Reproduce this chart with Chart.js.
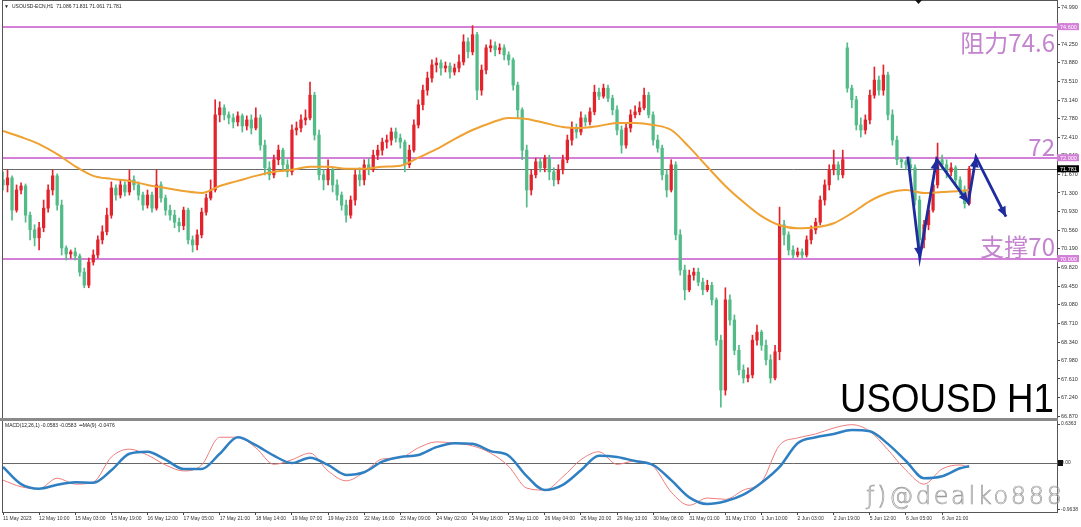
<!DOCTYPE html>
<html>
<head>
<meta charset="utf-8">
<script src="https://cdn.jsdelivr.net/npm/chart.js@4.4.1/dist/chart.umd.min.js"></script>
<style>
html, body { margin: 0; padding: 0; background: #fff; }
#wrap { position: relative; width: 1081px; height: 527px; overflow: hidden; }
#priceBox { position: absolute; left: 0; top: 0; width: 1081px; height: 420px; }
#macdBox { position: absolute; left: 0; top: 420px; width: 1081px; height: 107px; }
</style>
</head>
<body>
<div id="wrap">
  <div id="priceBox"><canvas id="priceChart" width="1081" height="420"></canvas></div>
  <div id="macdBox"><canvas id="macdChart" width="1081" height="107"></canvas></div>
</div>
<script>
// USOUSD-ECN H1, candles (one candle per 2 bars)
const opens = [71.56,71.46,71.60,70.96,71.36,71.44,70.86,70.57,70.41,70.61,71.00,71.36,71.64,71.06,70.21,70.09,70.13,70.05,69.73,69.47,
  69.93,70.07,70.37,70.53,70.86,71.40,71.26,71.46,71.32,71.56,71.46,71.26,71.06,71.26,71.00,71.46,71.20,70.96,70.86,70.72,
  70.65,70.96,70.37,70.27,70.47,70.92,71.20,71.36,72.85,72.99,72.85,72.79,72.71,72.83,72.63,72.75,72.59,72.79,72.25,71.80,
  71.66,71.96,72.15,71.86,71.72,72.55,72.59,72.75,72.79,73.24,72.45,71.66,71.56,71.76,71.46,71.26,71.06,70.86,71.16,71.66,
  71.56,71.86,71.76,72.05,72.15,72.31,72.35,72.51,72.39,72.31,71.86,72.15,72.65,73.05,73.34,73.58,73.84,73.88,73.78,73.82,
  73.70,73.78,73.90,74.30,74.10,74.44,73.34,73.74,74.18,74.22,74.14,74.18,74.04,73.94,73.44,72.95,72.15,71.36,71.66,71.92,
  71.80,71.99,71.72,71.56,71.76,71.96,72.35,72.59,72.51,72.79,72.71,72.91,73.30,73.22,73.38,73.18,72.95,72.55,72.25,72.59,
  72.85,72.91,72.99,73.24,72.85,72.35,72.19,71.66,71.36,71.86,70.47,69.77,69.38,69.67,69.73,69.53,69.38,69.47,69.18,68.38,
  67.39,69.18,68.78,68.18,67.79,67.63,67.69,68.38,68.54,68.28,67.99,67.63,68.15,70.67,70.47,70.17,70.07,70.13,70.07,70.37,
  70.57,70.72,71.16,71.46,71.76,71.86,71.66,74.18,73.38,73.15,72.65,72.55,72.75,73.24,73.54,73.34,73.64,72.85,72.35,71.96,
  71.92,71.86,71.80,71.16,70.37,70.67,70.96,71.46,71.96,71.86,71.72,71.80,71.56,71.36,71.09];
const highs = [71.72,71.76,71.64,71.46,71.50,71.48,70.92,70.67,70.72,71.16,71.46,71.76,71.68,71.16,70.25,70.17,70.21,70.09,69.81,70.01,
  70.17,70.45,70.65,71.00,71.52,71.46,71.56,71.52,71.76,71.64,71.52,71.32,71.36,71.32,71.76,71.52,71.26,71.06,70.96,70.80,
  71.02,71.00,70.45,70.57,71.00,71.28,71.56,73.15,73.11,73.05,72.91,72.87,72.91,72.87,72.83,72.85,72.99,72.85,72.35,71.92,
  72.05,72.25,72.19,71.96,72.65,72.71,72.85,72.95,73.50,73.30,72.55,71.76,71.96,71.80,71.56,71.32,71.16,71.24,71.76,71.80,
  71.96,71.99,72.15,72.25,72.39,72.45,72.59,72.59,72.47,72.35,72.25,72.75,73.15,73.44,73.70,73.94,73.98,73.94,73.90,73.88,
  73.86,74.04,74.44,74.38,74.62,74.49,73.84,74.24,74.34,74.30,74.26,74.24,74.10,73.98,73.50,72.99,72.25,71.76,71.99,71.99,
  72.05,72.05,71.80,71.86,72.05,72.45,72.71,72.67,72.91,72.85,72.99,73.44,73.38,73.46,73.44,73.24,73.03,72.63,72.67,72.95,
  73.03,73.11,73.38,73.30,72.91,72.45,72.25,71.76,71.96,71.92,70.57,69.87,69.77,69.81,69.81,69.61,69.57,69.53,69.22,68.48,
  69.42,69.28,68.88,68.28,67.89,67.83,68.48,68.68,68.58,68.38,68.09,68.28,71.02,70.76,70.53,70.25,70.21,70.19,70.45,70.65,
  70.80,71.24,71.56,71.86,72.15,71.92,72.15,74.28,73.44,73.22,72.79,72.85,73.34,73.80,73.62,73.84,73.70,72.95,72.43,71.99,
  71.96,71.99,71.86,71.24,70.76,71.06,71.56,72.29,72.05,71.96,71.90,71.84,71.62,71.44,71.83];
const lows = [71.36,71.32,70.76,70.92,71.28,70.72,70.37,70.25,70.17,70.53,70.92,71.26,70.96,70.07,69.97,70.01,69.97,69.65,69.42,69.42,
  69.87,70.01,70.29,70.47,70.80,71.16,71.20,71.24,71.26,71.36,71.16,70.96,71.00,70.92,70.96,71.12,70.86,70.76,70.61,70.53,
  70.57,70.29,70.13,70.17,70.41,70.86,71.16,71.32,72.71,72.75,72.67,72.59,72.63,72.51,72.55,72.47,72.55,72.15,71.66,71.56,
  71.60,71.86,71.76,71.62,71.66,72.45,72.51,72.65,72.75,72.35,71.56,71.36,71.46,71.32,71.16,70.96,70.72,70.80,71.06,71.44,
  71.46,71.66,71.72,71.96,72.05,72.19,72.25,72.31,72.19,71.72,71.80,72.11,72.59,72.95,73.24,73.50,73.70,73.64,73.70,73.58,
  73.64,73.70,73.84,73.98,74.04,73.15,73.24,73.66,74.10,74.02,74.06,73.94,73.84,73.34,72.79,71.96,71.02,71.26,71.60,71.72,
  71.72,71.56,71.44,71.48,71.68,71.90,72.25,72.39,72.45,72.63,72.65,72.85,73.15,73.18,73.11,72.85,72.45,72.09,72.19,72.51,
  72.79,72.85,72.95,72.79,72.25,72.11,71.56,71.22,71.32,70.37,69.67,69.18,69.34,69.57,69.46,69.28,69.34,69.08,68.28,67.05,
  67.29,68.68,68.09,67.69,67.53,67.55,67.63,68.28,68.18,67.89,67.53,67.59,67.99,70.27,70.07,70.01,70.03,70.01,70.03,70.29,
  70.49,70.67,71.06,71.36,71.66,71.56,71.60,73.30,72.99,72.55,72.41,72.47,72.67,73.18,73.24,73.24,72.75,72.25,71.86,71.80,
  71.76,71.72,71.06,70.03,70.21,70.57,70.92,71.40,71.76,71.60,71.64,71.44,71.26,71.00,71.06];
const closes = [71.46,71.60,70.96,71.36,71.44,70.86,70.57,70.41,70.61,71.00,71.36,71.64,71.06,70.21,70.09,70.13,70.05,69.73,69.47,69.93,
  70.07,70.37,70.53,70.86,71.40,71.26,71.46,71.32,71.56,71.46,71.26,71.06,71.26,71.00,71.46,71.20,70.96,70.86,70.72,70.65,
  70.96,70.37,70.27,70.47,70.92,71.20,71.36,72.85,72.99,72.85,72.79,72.71,72.83,72.63,72.75,72.59,72.79,72.25,71.80,71.66,
  71.96,72.15,71.86,71.72,72.55,72.59,72.75,72.79,73.24,72.45,71.66,71.56,71.76,71.46,71.26,71.06,70.86,71.16,71.66,71.56,
  71.86,71.76,72.05,72.15,72.31,72.35,72.51,72.39,72.31,71.86,72.15,72.65,73.05,73.34,73.58,73.84,73.88,73.78,73.82,73.70,
  73.78,73.90,74.30,74.10,74.44,73.34,73.74,74.18,74.22,74.14,74.18,74.04,73.94,73.44,72.95,72.15,71.36,71.66,71.92,71.80,
  71.99,71.72,71.56,71.76,71.96,72.35,72.59,72.51,72.79,72.71,72.91,73.30,73.22,73.38,73.18,72.95,72.55,72.25,72.59,72.85,
  72.91,72.99,73.24,72.85,72.35,72.19,71.66,71.36,71.86,70.47,69.77,69.38,69.67,69.73,69.53,69.38,69.47,69.18,68.38,67.39,
  69.18,68.78,68.18,67.79,67.63,67.69,68.38,68.54,68.28,67.99,67.63,68.15,70.67,70.47,70.17,70.07,70.13,70.07,70.37,70.57,
  70.72,71.16,71.46,71.76,71.86,71.66,71.96,73.38,73.15,72.65,72.55,72.75,73.24,73.54,73.34,73.64,72.85,72.35,71.96,71.92,
  71.86,71.80,71.16,70.37,70.67,70.96,71.46,71.96,71.86,71.72,71.80,71.56,71.36,71.09,71.781];

// moving average and MACD, read every 8 bars
const maValues = [72.53,72.41,72.27,72.07,71.83,71.64,71.58,71.54,71.46,71.40,71.34,71.30,71.44,71.54,71.64,71.72,71.76,71.82,71.82,71.78,
  71.78,71.82,71.84,72.00,72.17,72.37,72.55,72.69,72.79,72.77,72.69,72.61,72.59,72.63,72.69,72.69,72.65,72.55,72.21,71.82,
  71.44,71.12,70.84,70.66,70.60,70.62,70.70,70.90,71.14,71.30,71.36,71.30,71.32,71.34,71.36];
const macdMain = [-0.26,-0.36,-0.39,-0.23,-0.32,-0.29,0.09,0.21,0.12,-0.03,-0.12,-0.03,0.39,0.39,0.23,-0.02,0.05,0.15,-0.12,-0.27,
  -0.14,0.06,0.08,0.23,0.32,0.30,0.26,0.15,-0.05,-0.38,-0.41,-0.21,0.05,0.17,-0.02,0.03,-0.05,-0.44,-0.64,-0.53,
  -0.55,-0.41,-0.29,0.27,0.38,0.44,0.53,0.58,0.48,0.20,-0.11,-0.32,-0.09,-0.03,-0.06];
const macdSignal = [-0.06,-0.32,-0.39,-0.33,-0.29,-0.30,-0.11,0.14,0.17,0.05,-0.09,-0.09,0.14,0.39,0.27,0.11,0.00,0.08,-0.03,-0.18,
  -0.14,0.02,0.09,0.12,0.24,0.30,0.29,0.18,0.11,-0.20,-0.41,-0.33,-0.11,0.11,0.09,0.03,-0.03,-0.26,-0.52,-0.62,
  -0.58,-0.48,-0.30,-0.06,0.30,0.39,0.44,0.50,0.48,0.29,0.03,-0.23,-0.20,-0.08,-0.05];

const timeLabels = ['11 May 2023','12 May 10:00','15 May 03:00','15 May 19:00','16 May 12:00','17 May 05:00','17 May 21:00',
  '18 May 14:00','19 May 07:00','19 May 23:00','22 May 16:00','23 May 09:00','24 May 02:00','24 May 18:00','25 May 11:00',
  '26 May 04:00','26 May 20:00','29 May 13:00','30 May 08:00','31 May 01:00','31 May 17:00','1 Jun 10:00','2 Jun 03:00',
  '2 Jun 19:00','5 Jun 12:00','6 Jun 05:00','6 Jun 21:00'];
const priceTicks = [74.99,74.62,74.25,73.88,73.51,73.14,72.78,72.41,72.04,71.67,71.30,70.93,70.56,70.19,69.82,69.45,69.08,68.71,
  68.34,67.98,67.61,67.24,66.87];
const macdTickValues = [0.59, 0, -0.71];
const macdTickLabels = ['0.6363', '0.00', '-0.9638'];

const levels = [74.6, 72.0, 70.0];
const levelTags = ['74.600', '72.000', '70.000'];
const lastPrice = 71.781;

// hand-drawn zigzag forecast
const arrowIdx = [400.8, 406.1, 413.6, 427.6, 431.0, 444.3];
const arrowPrice = [72.02, 70.02, 71.97, 71.11, 72.01, 70.83];

const X_MAX = 466.9;
const bullColor = '#e3232c';
const bearColor = '#52bb88';
const pinkLine = '#d47fd8';
const pinkText = '#c483cf';
const arrowColor = '#1e2c9e';

Chart.defaults.font.family = '"Liberation Sans", Arial, sans-serif';
Chart.defaults.color = '#333';

const candleIdx = closes.map((_, n) => n * 2);
const lineIdx = maValues.map((_, k) => (k < 54 ? k * 8 : 428));
const candleColors = closes.map((c, n) => (c >= opens[n] ? bullColor : bearColor));

const priceDecor = {
  id: 'priceDecor',
  beforeDatasetsDraw(chart) {
    const { ctx, chartArea: a, scales: { y } } = chart;
    ctx.save();
    ctx.strokeStyle = pinkLine;
    ctx.lineWidth = 2;
    levels.forEach(v => {
      const py = Math.round(y.getPixelForValue(v));
      ctx.beginPath(); ctx.moveTo(a.left, py); ctx.lineTo(a.right, py); ctx.stroke();
    });
    const pc = Math.round(y.getPixelForValue(lastPrice)) + 0.5;
    ctx.strokeStyle = '#6a6a6a';
    ctx.lineWidth = 1;
    ctx.beginPath(); ctx.moveTo(a.left, pc); ctx.lineTo(a.right, pc); ctx.stroke();
    ctx.restore();
  },
  afterDatasetsDraw(chart) {
    const { ctx } = chart;
    const pts = chart.getDatasetMeta(0).data;
    ctx.save();
    ctx.fillStyle = arrowColor;
    for (let i = 1; i < pts.length; i++) {
      const p = pts[i], q = pts[i - 1];
      const ang = Math.atan2(p.y - q.y, p.x - q.x);
      ctx.beginPath();
      ctx.moveTo(p.x, p.y);
      ctx.lineTo(p.x - 10 * Math.cos(ang) + 4.5 * Math.sin(ang), p.y - 10 * Math.sin(ang) - 4.5 * Math.cos(ang));
      ctx.lineTo(p.x - 10 * Math.cos(ang) - 4.5 * Math.sin(ang), p.y - 10 * Math.sin(ang) + 4.5 * Math.cos(ang));
      ctx.closePath();
      ctx.fill();
    }
    ctx.restore();
  },
  afterDraw(chart) {
    const { ctx, chartArea: a, scales: { y } } = chart;
    ctx.save();
    // frame and panel separator
    ctx.strokeStyle = '#555';
    ctx.lineWidth = 1;
    ctx.strokeRect(a.left - 0.5, a.top + 0.5, a.right - a.left + 1, a.bottom - a.top);
    ctx.fillStyle = '#8a8a8a';
    ctx.fillRect(0, a.bottom, a.right + 1, 2);
    // shift marker
    ctx.fillStyle = '#111';
    ctx.beginPath(); ctx.moveTo(915, 0); ctx.lineTo(922, 0); ctx.lineTo(918.5, 4); ctx.closePath(); ctx.fill();
    // price tags on the axis
    ctx.font = '5.5px "Liberation Sans"';
    ctx.textBaseline = 'middle';
    levels.forEach((v, i) => {
      const py = y.getPixelForValue(v);
      ctx.fillStyle = pinkLine;
      ctx.fillRect(a.right, py - 3.5, 22, 7);
      ctx.fillStyle = '#fff';
      ctx.fillText(levelTags[i], a.right + 3, py + 0.5);
    });
    const pc = y.getPixelForValue(lastPrice);
    ctx.fillStyle = '#000';
    ctx.fillRect(a.right, pc - 3.5, 22, 7);
    ctx.fillStyle = '#fff';
    ctx.fillText(lastPrice.toFixed(3), a.right + 3, pc + 0.5);
    // header
    ctx.textBaseline = 'alphabetic';
    ctx.fillStyle = '#222';
    ctx.font = '5px "Liberation Sans"';
    ctx.fillText('\u25BC', 4, 7.5);
    ctx.fillText('USOUSD-ECN,H1  71.086 71.831 71.061 71.781', 12, 7.5);
    // level captions
    ctx.fillStyle = pinkText;
    ctx.textAlign = 'right';
    ctx.font = '24px "Noto Sans CJK SC"';
    ctx.fillText('阻力74.6', a.right - 2, y.getPixelForValue(74.6) + 25);
    ctx.fillText('72', a.right - 2, y.getPixelForValue(72.0) - 2);
    ctx.fillText('支撑70', a.right - 2, y.getPixelForValue(70.0) - 3);
    // symbol caption
    ctx.fillStyle = '#000';
    ctx.font = '41px "Liberation Sans"';
    const w = ctx.measureText('USOUSD H1').width;
    ctx.translate(a.right - 3, 412);
    ctx.scale(214 / w, 1);
    ctx.fillText('USOUSD H1', 0, 0);
    ctx.restore();
  }
};

const macdDecor = {
  id: 'macdDecor',
  beforeDatasetsDraw(chart) {
    const { ctx, chartArea: a, scales: { y } } = chart;
    const pz = Math.round(y.getPixelForValue(0)) + 0.5;
    ctx.save();
    ctx.strokeStyle = '#666';
    ctx.lineWidth = 1;
    ctx.beginPath(); ctx.moveTo(a.left, pz); ctx.lineTo(a.right, pz); ctx.stroke();
    ctx.restore();
  },
  afterDraw(chart) {
    const { ctx, chartArea: a, scales: { y } } = chart;
    ctx.save();
    ctx.strokeStyle = '#555';
    ctx.lineWidth = 1;
    ctx.strokeRect(a.left - 0.5, a.top - 0.5, a.right - a.left + 1, a.bottom - a.top + 1);
    ctx.fillStyle = '#8a8a8a';
    ctx.fillRect(0, 0, a.right + 1, 1);
    ctx.fillStyle = '#111';
    ctx.fillRect(a.right + 1, y.getPixelForValue(0) - 3, 5, 6);
    ctx.fillStyle = '#222';
    ctx.font = '5px "Liberation Sans"';
    ctx.fillText('MACD(12,26,1) -0.0583 -0.0583  \u2022\u2022MA(9) -0.0476', 5, 7);
    // watermark
    ctx.font = '300 24px "DejaVu Sans"';
    const txt = '\u0192)@dealko888';
    const base = ctx.measureText(txt).width;
    ctx.letterSpacing = ((196 - base) / (txt.length - 1)).toFixed(2) + 'px';
    ctx.strokeStyle = '#9a9a9a';
    ctx.lineWidth = 0.7;
    ctx.strokeText(txt, 866, 84);
    ctx.restore();
  }
};

new Chart(document.getElementById('priceChart'), {
  type: 'bar',
  data: {
    datasets: [
      {
        type: 'line',
        data: arrowIdx.map((x, i) => ({ x, y: arrowPrice[i] })),
        borderColor: arrowColor,
        borderWidth: 2.8,
        pointRadius: 0,
        tension: 0,
        order: 0
      },
      {
        type: 'line',
        data: lineIdx.map((x, i) => ({ x, y: maValues[i] })),
        borderColor: '#efa132',
        borderWidth: 2,
        pointRadius: 0,
        cubicInterpolationMode: 'monotone',
        order: 1
      },
      {
        data: candleIdx.map((x, n) => ({ x, y: [opens[n], closes[n]] })),
        backgroundColor: candleColors,
        barThickness: 2.6,
        grouped: false,
        order: 2
      },
      {
        data: candleIdx.map((x, n) => ({ x, y: [lows[n], highs[n]] })),
        backgroundColor: candleColors,
        barThickness: 1,
        grouped: false,
        order: 3
      }
    ]
  },
  options: {
    responsive: false,
    animation: false,
    devicePixelRatio: 1,
    layout: { padding: { left: 3, top: 0, right: 0, bottom: 2 } },
    plugins: { legend: { display: false }, tooltip: { enabled: false } },
    scales: {
      x: { type: 'linear', min: 0, max: X_MAX, offset: false, display: false, grid: { offset: false } },
      y: {
        position: 'right',
        min: 66.836,
        max: 75.129,
        afterBuildTicks: s => { s.ticks = priceTicks.map(v => ({ value: v })); },
        afterFit: s => { s.width = 24; s.paddingTop = 0; s.paddingBottom = 0; },
        ticks: { callback: v => v.toFixed(3), font: { size: 5.5 }, color: '#333', padding: 1 },
        grid: { drawOnChartArea: false, tickLength: 3, color: '#444' },
        border: { display: false }
      }
    }
  },
  plugins: [priceDecor]
});

new Chart(document.getElementById('macdChart'), {
  type: 'line',
  data: {
    datasets: [
      {
        data: lineIdx.map((x, i) => ({ x, y: macdSignal[i] })),
        borderColor: '#2f7fc3',
        borderWidth: 2.5,
        pointRadius: 0,
        cubicInterpolationMode: 'monotone',
        order: 0
      },
      {
        data: lineIdx.map((x, i) => ({ x, y: macdMain[i] })),
        borderColor: '#ee7b7b',
        borderWidth: 1,
        pointRadius: 0,
        cubicInterpolationMode: 'monotone',
        order: 1
      }
    ]
  },
  options: {
    responsive: false,
    animation: false,
    devicePixelRatio: 1,
    layout: { padding: { left: 3, top: 1, right: 0, bottom: 0 } },
    plugins: { legend: { display: false }, tooltip: { enabled: false } },
    scales: {
      x: {
        type: 'linear',
        min: 0,
        max: X_MAX,
        afterBuildTicks: s => { s.ticks = timeLabels.map((_, k) => ({ value: k * 16 })); },
        afterFit: s => { s.height = 15; s.paddingLeft = 0; s.paddingRight = 0; },
        ticks: {
          callback: (v, i) => timeLabels[i],
          align: 'start',
          autoSkip: false,
          maxRotation: 0,
          minRotation: 0,
          font: { size: 5 },
          color: '#333',
          padding: 1
        },
        grid: { drawOnChartArea: false, tickLength: 3, color: '#444' },
        border: { display: false }
      },
      y: {
        position: 'right',
        min: -0.742,
        max: 0.636,
        afterBuildTicks: s => { s.ticks = macdTickValues.map(v => ({ value: v })); },
        afterFit: s => { s.width = 24; s.paddingTop = 0; s.paddingBottom = 0; },
        ticks: { callback: (v, i) => macdTickLabels[i], font: { size: 5 }, color: '#333', padding: 1 },
        grid: { drawOnChartArea: false, tickLength: 3, color: '#444' },
        border: { display: false }
      }
    }
  },
  plugins: [macdDecor]
});
</script>
</body>
</html>
